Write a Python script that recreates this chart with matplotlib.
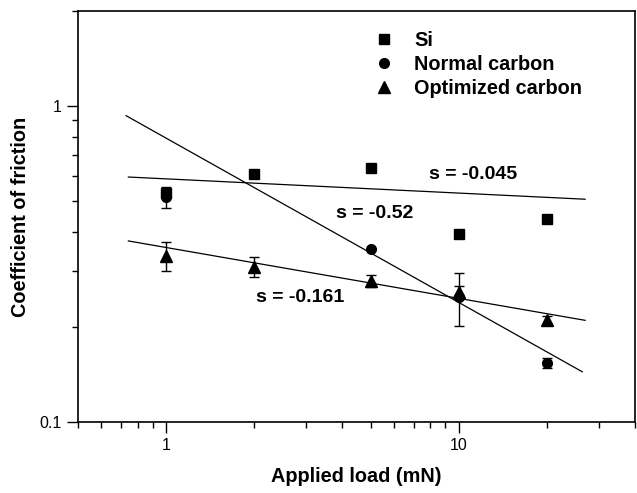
import numpy as np
import matplotlib
matplotlib.use('Agg')
import matplotlib.pyplot as plt

plt.rcParams['font.family'] = ['Liberation Sans', 'DejaVu Sans']

# measured data (log-log)
load = [1, 2, 5, 10, 20]
si = [0.53, 0.609, 0.638, 0.393, 0.439]
normal = [0.515, None, 0.353, 0.249, 0.154]
normal_err = [0.04, None, 0.0, 0.047, 0.006]
optim = [0.336, 0.31, 0.28, 0.258, 0.21]
optim_err = [0.035, 0.022, 0.012, 0.012, 0.006]

# power-law fits: mu = A * L^s, drawn between x_start and x_end
fit_A = [0.588, 0.791, 0.3566]
fit_s = [-0.045, -0.52, -0.161]
fit_x = [(0.743, 27.0), (0.73, 26.4), (0.743, 27.0)]
fit_text = ['s = -0.045', 's = -0.52', 's = -0.161']
text_xy = [(7.9, 0.609), (3.8, 0.458), (2.02, 0.247)]

fig = plt.figure(figsize=(6.37, 4.93), dpi=100)
ax = fig.add_axes([0.1225, 0.144, 0.8745, 0.834])
ax.set_xscale('log')
ax.set_yscale('log')

for A, s, (x0, x1) in zip(fit_A, fit_s, fit_x):
    xx = np.array([x0, x1])
    ax.plot(xx, A * xx ** s, color='k', lw=0.9, zorder=1)

ax.plot(load, si, 's', color='k', ms=6.5, label='Si', zorder=3)

nx = [x for x, v in zip(load, normal) if v is not None]
ny = [v for v in normal if v is not None]
ne = [e for e in normal_err if e is not None]
ax.errorbar(nx, ny, yerr=ne, fmt='o', color='k', ms=7, capsize=3.5,
            elinewidth=1, capthick=1, label='Normal carbon', zorder=3)
ax.errorbar(load, optim, yerr=optim_err, fmt='^', color='k', ms=8,
            capsize=3.5, elinewidth=1, capthick=1, label='Optimized carbon',
            zorder=3)

for t, (tx, ty) in zip(fit_text, text_xy):
    ax.text(tx, ty, t, fontsize=14, fontweight='bold', va='center',
            ha='left')

ax.set_xlim(0.5, 40)
ax.set_ylim(0.1, 2)
ax.set_xticks([1, 10])
ax.set_xticklabels(['1', '10'])
ax.set_yticks([0.1, 1])
ax.set_yticklabels(['0.1', '1'])
ax.tick_params(which='both', direction='out', top=False, right=False,
               labelsize=11.5)
ax.tick_params(which='major', length=8, width=1)
ax.tick_params(which='minor', length=4.5, width=1)
ax.xaxis.set_minor_formatter(matplotlib.ticker.NullFormatter())
ax.yaxis.set_minor_formatter(matplotlib.ticker.NullFormatter())
for sp in ax.spines.values():
    sp.set_linewidth(1.2)

ax.set_xlabel('Applied load (mN)', fontsize=14.3, fontweight='bold',
              labelpad=10)
ax.set_ylabel('Coefficient of friction', fontsize=14.3, fontweight='bold',
              labelpad=7)

handles, labels = ax.get_legend_handles_labels()
h2 = [h[0] if isinstance(h, tuple) else h for h in handles]
ax.legend(h2, labels, loc='upper left', bbox_to_anchor=(0.5, 0.995),
          frameon=False, prop={'weight': 'bold', 'size': 14.3},
          handlelength=1, handletextpad=1.0, labelspacing=0.25,
          numpoints=1)

fig.savefig('out.png', dpi=100)
